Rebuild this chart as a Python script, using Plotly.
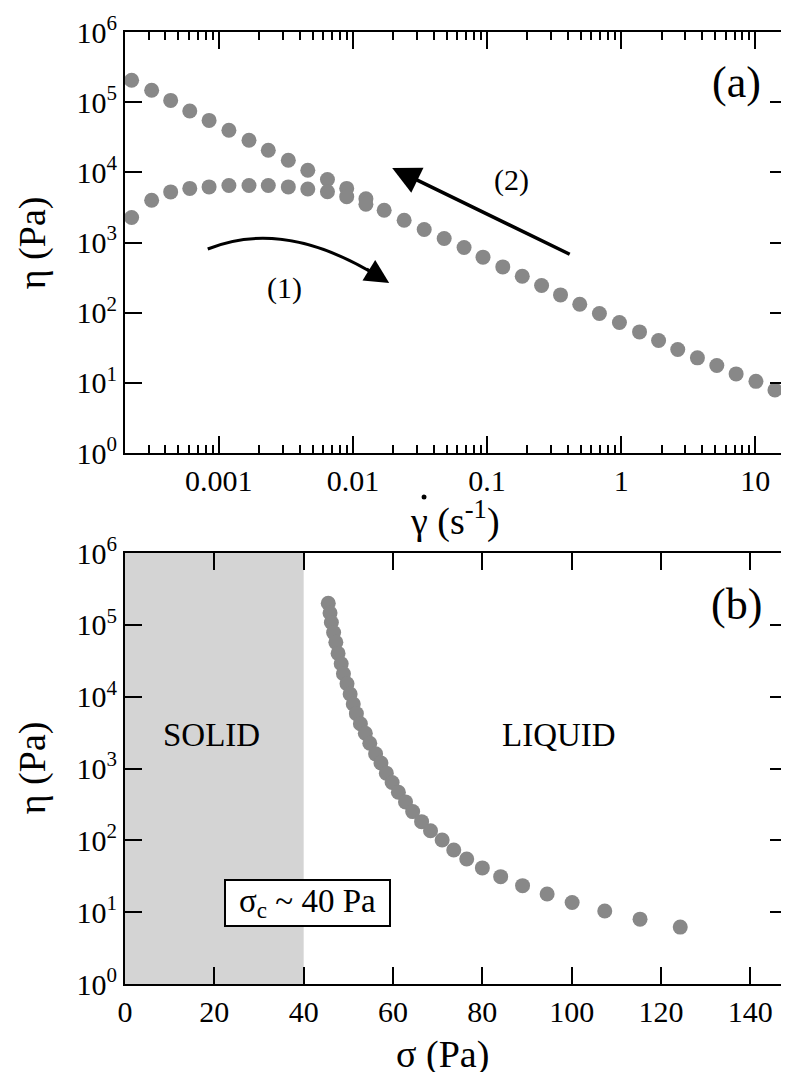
import plotly.graph_objects as go
from plotly.subplots import make_subplots

# (a) viscosity vs shear rate, sweep (2) down, sweep (1) up
shear_rate_down = [2.24e-4, 3.16e-4, 4.38e-4, 6.08e-4, 8.47e-4, 1.19e-3, 1.68e-3, 2.34e-3,
                   3.30e-3, 4.61e-3, 6.46e-3, 8.99e-3, 1.25e-2, 1.71e-2, 2.41e-2, 3.40e-2,
                   4.79e-2, 6.74e-2, 9.33e-2, 0.131, 0.183, 0.255, 0.353, 0.491, 0.688,
                   0.970, 1.37, 1.90, 2.64, 3.70, 5.16, 7.19, 10.1, 14.0]
eta_down = [2.05e5, 1.48e5, 1.06e5, 7.5e4, 5.5e4, 3.98e4, 2.87e4, 2.06e4, 1.49e4, 1.07e4,
            7.9e3, 5.9e3, 4.2e3, 2.88e3, 2.08e3, 1.53e3, 1.14e3, 849, 618, 449, 331, 244,
            179, 132, 97.4, 72.5, 53.2, 40.2, 29.9, 22.7, 17.7, 13.4, 10.5, 7.9]

shear_rate_up = [2.24e-4, 3.16e-4, 4.38e-4, 6.08e-4, 8.47e-4, 1.19e-3, 1.68e-3, 2.34e-3,
                 3.30e-3, 4.61e-3, 6.46e-3, 8.99e-3, 1.25e-2]
eta_up = [2.27e3, 4.0e3, 5.26e3, 5.9e3, 6.2e3, 6.5e3, 6.5e3, 6.5e3, 6.2e3, 5.8e3, 5.3e3,
          4.5e3, 3.5e3]

# (b) viscosity vs stress
stress = [45.5, 45.9, 46.2, 46.7, 47.2, 47.7, 48.4, 48.9, 49.7, 50.4, 51.1, 51.8, 52.7,
          53.8, 54.8, 56.1, 57.3, 58.5, 59.8, 61.2, 62.8, 64.4, 66.4, 68.4, 71.0, 73.6,
          76.5, 80.0, 84.1, 89.0, 94.5, 100.1, 107.4, 115.3, 124.3]
eta_b = [2.0e5, 1.46e5, 1.08e5, 7.8e4, 5.7e4, 4.0e4, 2.87e4, 2.08e4, 1.51e4, 1.09e4, 7.9e3,
         5.8e3, 4.2e3, 3.1e3, 2.25e3, 1.6e3, 1.19e3, 861, 637, 468, 343, 251, 182, 136, 101,
         73.5, 55.1, 41.3, 31.2, 23.4, 17.9, 13.6, 10.4, 8.0, 6.2]

sigma_c = 40
x_ticks_a = [0.001, 0.01, 0.1, 1, 10]
x_ticks_b = [0, 20, 40, 60, 80, 100, 120, 140]
y_ticks = [1, 10, 100, 1e3, 1e4, 1e5, 1e6]
y_labels = ["10<sup>%d</sup>" % i for i in range(7)]

# page has an 8px body margin, so the figure is drawn 8px in and down
OFF = 8
W, H = 789 - OFF, 1072 - OFF
ML, MR, MT, MB = 125 - OFF, 0, 32 - OFF, 88
FONT = "Liberation Serif, serif"
GREY = "#888888"


def px(x):
    # page pixel -> paper x
    return (x - OFF - ML) / (W - ML - MR)


def py(y):
    # page pixel -> paper y
    return (H - MB - (y - OFF)) / (H - MT - MB)


fig = make_subplots(rows=2, cols=1)

marker = dict(color=GREY, size=15, line=dict(width=0))
fig.add_trace(go.Scatter(x=shear_rate_down, y=eta_down, mode="markers", marker=marker),
              row=1, col=1)
fig.add_trace(go.Scatter(x=shear_rate_up, y=eta_up, mode="markers", marker=marker),
              row=1, col=1)
fig.add_trace(go.Scatter(x=stress, y=eta_b, mode="markers", marker=marker), row=2, col=1)

# solid region
fig.add_shape(type="rect", xref="x2", yref="y2 domain", x0=0, x1=sigma_c, y0=0, y1=1,
              fillcolor="#d4d4d4", line=dict(width=0), layer="below")

minor_vals = [m * 10.0 ** d for d in range(-4, 2) for m in range(2, 10)]

tick_font = dict(family=FONT, size=30, color="black")
axis_common = dict(showline=True, linecolor="black", linewidth=2, mirror="allticks",
                   ticks="inside", ticklen=17, tickwidth=2, tickcolor="black",
                   showgrid=False, zeroline=False, tickfont=tick_font)

fig.update_xaxes(type="log", range=[-3.699, 1.236], tickvals=x_ticks_a,
                 ticktext=[str(v) for v in x_ticks_a],
                 minor=dict(ticks="inside", ticklen=8, tickwidth=2, tickcolor="black",
                            tickvals=minor_vals, showgrid=False),
                 **axis_common, row=1, col=1)
fig.update_yaxes(type="log", range=[0, 6], tickvals=y_ticks, ticktext=y_labels,
                 domain=[py(453), 1.0], **axis_common, row=1, col=1)
fig.update_xaxes(range=[0, 148.2], tickvals=x_ticks_b, **axis_common, row=2, col=1)
fig.update_yaxes(type="log", range=[0, 6], tickvals=y_ticks, ticktext=y_labels,
                 domain=[0, py(553)], **axis_common, row=2, col=1)

# curved arrow (1)
fig.add_shape(type="path", xref="paper", yref="paper",
              path="M %f,%f Q %f,%f %f,%f" % (px(208), py(249), px(285), py(218),
                                               px(380), py(277)),
              line=dict(color="black", width=3))

# dot over the gamma in the x title
fig.add_shape(type="circle", xref="paper", yref="paper",
              x0=px(422.5), x1=px(427.5), y0=py(499.5), y1=py(494.5),
              fillcolor="black", line=dict(width=0))


def f(size):
    return dict(family=FONT, size=size, color="black")


annotations = [
    dict(x=px(738), y=py(82), text="(a)", font=f(44)),
    dict(x=px(738), y=py(604), text="(b)", font=f(44)),
    dict(x=px(513), y=py(180), text="(2)", font=f(30)),
    dict(x=px(285), y=py(288), text="(1)", font=f(30)),
    dict(x=px(212), y=py(735), text="SOLID", font=f(33)),
    dict(x=px(560), y=py(735), text="LIQUID", font=f(33)),
    dict(x=px(308), y=py(903), text="σ<sub>c</sub> ~ 40 Pa", font=f(33),
         bordercolor="black", borderwidth=2, borderpad=0, bgcolor="white",
         width=163, height=44),
    # axis titles
    dict(x=px(456), y=py(519), text="γ (s<sup>-1</sup>)", font=f(38)),
    dict(x=px(443), y=py(1054), text="σ (Pa)", font=f(38)),
    dict(x=px(32), y=py(243), text="η (Pa)", font=f(38), textangle=-90),
    dict(x=px(32), y=py(768), text="η (Pa)", font=f(38), textangle=-90),
]
for a in annotations:
    fig.add_annotation(xref="paper", yref="paper", showarrow=False, xanchor="center",
                       yanchor="middle", **a)

# straight arrow (2)
fig.add_annotation(xref="paper", yref="paper", x=px(393), y=py(168), ax=179, ay=87,
                   axref="pixel", ayref="pixel", text="", showarrow=True,
                   arrowhead=2, arrowsize=1.6, arrowwidth=3.5, arrowcolor="black")
# head of arrow (1)
fig.add_annotation(xref="paper", yref="paper", x=px(390), y=py(283), ax=-24, ay=-15,
                   text="", showarrow=True, arrowhead=2, arrowsize=1.6, arrowwidth=3,
                   arrowcolor="black")

fig.update_layout(width=W, height=H, margin=dict(l=ML, r=MR, t=MT, b=MB),
                  paper_bgcolor="white", plot_bgcolor="rgba(0,0,0,0)", showlegend=False,
                  font=dict(family=FONT, size=30, color="black"))

fig.write_html("out.html")
